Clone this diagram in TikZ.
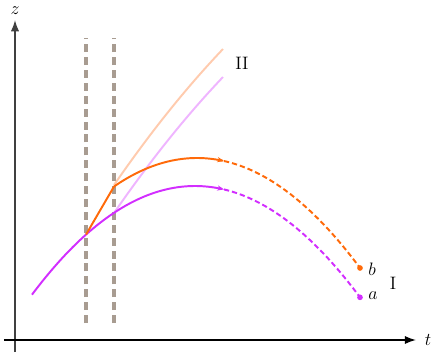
\documentclass[tikz,border=0pt]{standalone}
\usetikzlibrary{arrows.meta}
\definecolor{myorange}{HTML}{FF6A0A}
\definecolor{mypurple}{HTML}{D22EFF}
\definecolor{lorange}{HTML}{FFCBAE}
\definecolor{lpurple}{HTML}{EFB5FF}
\definecolor{wallgray}{HTML}{A89C91}
\tikzset{
  axis/.style={line width=1pt,-{Latex[length=7.5pt,width=5.5pt]}},
  wall/.style={wallgray,line width=2.9pt,dash pattern=on 5.3pt off 3.3pt},
  curve/.style={line width=1.3pt},
  ghost/.style={line width=1.3pt},
  lbl/.style={inner sep=0pt,font=\large},
  ep/.style={circle,fill,inner sep=0pt,minimum size=3.8pt},
}
\begin{document}
\begin{tikzpicture}[x=0.6667pt,y=0.6667pt]
\useasboundingbox (0,0) rectangle (436,355);
% axes
\draw[axis,black!75] (15,3) -- (15,335);
\draw[axis] (4,15) -- (416,15);
\node[lbl] (zl) at (15,344) {$z$};
\node[lbl] (tl) at (428,15) {$t$};
% walls
\draw[wall] (86,32) -- (86,317);
\draw[wall] (114,32) -- (114,317);
% ghost curves
\draw[ghost,lorange] (114,170) .. controls (150,222) and (185,266) .. (223,306);
\draw[ghost,lpurple] (114,142) .. controls (150,194) and (185,238) .. (223,278);
% purple curve
\draw[curve,mypurple,-{Stealth[length=4.5pt,width=3.5pt]}] plot[domain=32:224,samples=60,smooth] ({\x},{355-(186+110*((\x-195)/164)^2)});
\draw[curve,mypurple,dash pattern=on 3.5pt off 2pt] plot[domain=224:360,samples=50,smooth] ({\x},{355-(186+110*((\x-195)/164)^2)});
\node[ep,mypurple] (a) at (360,{355-(186+110*((360-195)/164)^2)}) {};
% orange curve
\draw[curve,myorange] (86,{355-(186+110*((86-195)/164)^2)}) -- (114,{355-(158+110*((114-197)/163)^2)});
\draw[curve,myorange,-{Stealth[length=4.5pt,width=3.5pt]}] plot[domain=114:224,samples=50,smooth] ({\x},{355-(158+110*((\x-197)/163)^2)});
\draw[curve,myorange,dash pattern=on 3.5pt off 2pt] plot[domain=224:360,samples=50,smooth] ({\x},{355-(158+110*((\x-197)/163)^2)});
\node[ep,myorange] (b) at (360,{355-(158+110*((360-197)/163)^2)}) {};
% labels
\node[lbl,anchor=west] (al) at (368,59) {$a$};
\node[lbl,anchor=west] (bl) at (368,86) {$b$};
\node[lbl] (I) at (393,72) {I};
\node[lbl] (II) at (242,292) {II};
\end{tikzpicture}
\end{document}
